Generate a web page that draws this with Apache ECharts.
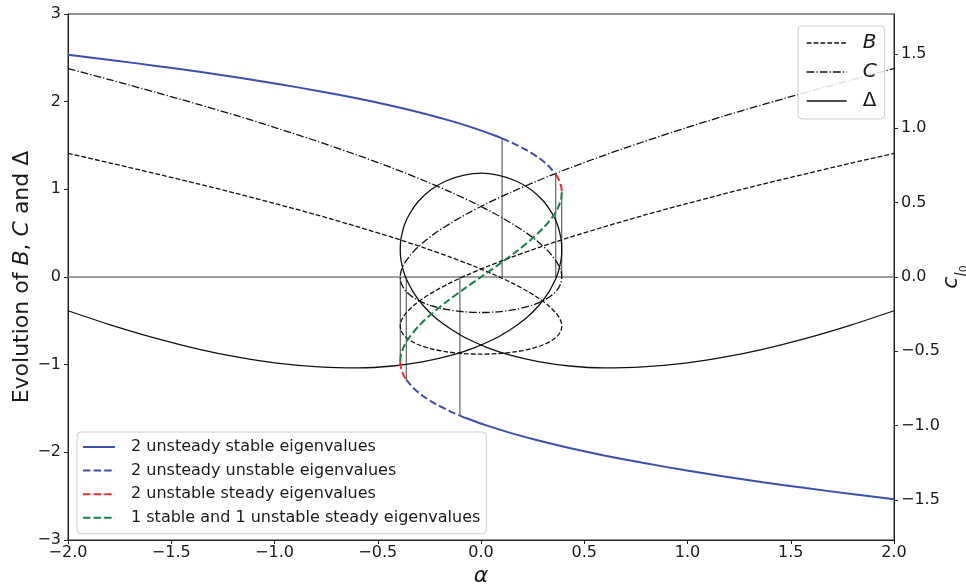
<!DOCTYPE html>
<html><head><meta charset="utf-8">
<script src="https://cdn.jsdelivr.net/npm/echarts@6/dist/echarts.min.js"></script>
<style>html,body{margin:0;padding:0;background:#fff}#c{width:966px;height:584px}</style>
</head><body><div id="c"></div>
<script>
// Path along the equilibrium curve: upper branch, middle branch, lower branch
const alpha = [
  -2.000, -1.795, -1.573, -1.364, -1.170, -0.990, -0.783, -0.596, -0.428, -0.278, -0.146, -0.030,
   0.070,  0.102,  0.154,  0.225,  0.281,  0.325,  0.362,  0.375,  0.386,  0.390,  0.391,
   0.390,  0.387,  0.371,  0.344,  0.302,  0.241,  0.170,  0.082,  0.000, -0.082, -0.170, -0.241,
  -0.302, -0.344, -0.371, -0.387, -0.390,
  -0.391, -0.390, -0.386, -0.375, -0.362, -0.325, -0.281, -0.225, -0.154, -0.102, -0.070,  0.030,
   0.146,  0.278,  0.428,  0.596,  0.783,  0.990,  1.170,  1.364,  1.573,  1.795,  2.000
];
const cl0 = [
   1.495, 1.46, 1.42, 1.38, 1.34, 1.30, 1.25, 1.20, 1.15, 1.10, 1.05, 1.00,
   0.95, 0.932, 0.90, 0.85, 0.80, 0.75, 0.69, 0.66, 0.62, 0.595, 0.57,
   0.545, 0.52, 0.46, 0.40, 0.33, 0.25, 0.17, 0.08, 0.0, -0.08, -0.17, -0.25,
  -0.33, -0.40, -0.46, -0.52, -0.545,
  -0.57, -0.595, -0.62, -0.66, -0.69, -0.75, -0.80, -0.85, -0.90, -0.932, -0.95, -1.00,
  -1.05, -1.10, -1.15, -1.20, -1.25, -1.30, -1.34, -1.38, -1.42, -1.46, -1.495
];
const valB = [
   1.410, 1.300, 1.177, 1.059, 0.944, 0.833, 0.700, 0.572, 0.451, 0.335, 0.224, 0.120,
   0.020, -0.014, -0.073, -0.162, -0.245, -0.323, -0.409, -0.449, -0.500, -0.531, -0.560,
  -0.587, -0.614, -0.672, -0.722, -0.773, -0.819, -0.852, -0.874, -0.880, -0.874, -0.852, -0.819,
  -0.773, -0.722, -0.672, -0.614, -0.587,
  -0.560, -0.531, -0.500, -0.449, -0.409, -0.323, -0.245, -0.162, -0.073, -0.014, 0.020, 0.120,
   0.224, 0.335, 0.451, 0.572, 0.700, 0.833, 0.944, 1.059, 1.177, 1.300, 1.410
];
const valC = [
   2.378, 2.249, 2.105, 1.966, 1.831, 1.699, 1.540, 1.388, 1.242, 1.101, 0.968, 0.840,
   0.719, 0.676, 0.603, 0.495, 0.392, 0.295, 0.188, 0.137, 0.074, 0.036, 0.000,
  -0.035, -0.068, -0.142, -0.206, -0.269, -0.327, -0.369, -0.397, -0.405, -0.397, -0.369, -0.327,
  -0.269, -0.206, -0.142, -0.068, -0.035,
   0.000, 0.036, 0.074, 0.137, 0.188, 0.295, 0.392, 0.495, 0.603, 0.676, 0.719, 0.840,
   0.968, 1.101, 1.242, 1.388, 1.540, 1.699, 1.831, 1.966, 2.105, 2.249, 2.378
];
const valD = [
  -0.385, -0.545, -0.700, -0.825, -0.918, -0.982, -1.025, -1.036, -1.015, -0.966, -0.895, -0.805,
  -0.700, -0.658, -0.582, -0.456, -0.322, -0.185, -0.021, 0.065, 0.176, 0.246, 0.314,
   0.380, 0.445, 0.594, 0.727, 0.867, 0.998, 1.095, 1.161, 1.185, 1.161, 1.095, 0.998,
   0.867, 0.727, 0.594, 0.445, 0.380,
   0.314, 0.246, 0.176, 0.065, -0.021, -0.185, -0.322, -0.456, -0.582, -0.658, -0.700, -0.805,
  -0.895, -0.966, -1.015, -1.036, -1.025, -0.982, -0.918, -0.825, -0.700, -0.545, -0.385
];
// stability segments along the path (start/end indices) and their class
const segStart = [0, 13, 18, 22, 40, 44, 49];
const segEnd   = [13, 18, 22, 40, 44, 49, 62];
const segClass = [0, 1, 2, 3, 2, 1, 0];
const classNames = [
  '2 unsteady stable eigenvalues',
  '2 unsteady unstable eigenvalues',
  '2 unstable steady eigenvalues',
  '1 stable and 1 unstable steady eigenvalues'
];
// bifurcation markers (indices into the path)
const markIdx = [13, 18, 22, 40, 44, 49];
const xTicks = [-2.0, -1.5, -1.0, -0.5, 0.0, 0.5, 1.0, 1.5, 2.0];
const leftTicks = [-3, -2, -1, 0, 1, 2, 3];
const rightTicks = [-1.5, -1.0, -0.5, 0.0, 0.5, 1.0, 1.5];
const rightRange = [-1.769, 1.769];

const FONT = 'DejaVu Sans';
const TXT = '#1a1a1a';
const classColor = ['#3a4fae', '#3a4fae', '#f22a2a', '#148246'];
const classType = ['solid', [7.4, 3.2], [7.4, 3.2], [7.4, 3.2]];
const minus = s => s.replace('-', '\u2212');

const series = [];
const curve = (vals) => alpha.map((a, i) => [a, vals[i]]);
series.push({name: 'B', type: 'line', yAxisIndex: 0, data: curve(valB), smooth: 0.3, symbol: 'none',
  lineStyle: {color: '#111', width: 1.3, type: [4.8, 2.1]}, silent: true, z: 2});
series.push({name: 'C', type: 'line', yAxisIndex: 0, data: curve(valC), smooth: 0.3, symbol: 'none',
  lineStyle: {color: '#111', width: 1.3, type: [7.7, 2.1, 1.3, 2.1]}, silent: true, z: 2});
series.push({name: '\u0394', type: 'line', yAxisIndex: 0, data: curve(valD), smooth: 0.3, symbol: 'none',
  lineStyle: {color: '#111', width: 1.3}, silent: true, z: 2});
// zero line
series.push({name: 'zero', type: 'line', yAxisIndex: 0,
  data: [[xTicks[0], 0], [xTicks[xTicks.length - 1], 0]], symbol: 'none',
  lineStyle: {color: '#808080', width: 1.5}, silent: true, z: 1});
// vertical marker lines
markIdx.forEach(i => {
  series.push({name: 'mark' + i, type: 'line', yAxisIndex: 1,
    data: [[alpha[i], cl0[i]], [alpha[i], 0]], symbol: 'none',
    lineStyle: {color: '#111', width: 0.8}, silent: true, z: 3});
});
// equilibrium curve segments
segStart.forEach((s, k) => {
  const cls = segClass[k];
  const pts = [];
  for (let i = s; i <= segEnd[k]; i++) pts.push([alpha[i], cl0[i]]);
  series.push({name: classNames[cls], type: 'line', yAxisIndex: 1, data: pts, smooth: 0.3,
    symbol: 'none', lineStyle: {color: classColor[cls], width: 2, type: classType[cls]},
    silent: true, z: 4});
});

const legendBox = {backgroundColor: 'rgba(255,255,255,0.85)', borderColor: '#cccccc', borderWidth: 1,
  borderRadius: 4, orient: 'vertical', align: 'left', itemStyle: {opacity: 0}};

const option = {
  animation: false,
  backgroundColor: '#ffffff',
  grid: {left: 68, right: 72, top: 14, bottom: 44, show: true, borderColor: '#222', borderWidth: 1,
    containLabel: false, outerBoundsMode: 'none'},
  xAxis: {type: 'value', min: xTicks[0], max: xTicks[xTicks.length - 1], interval: 0.5,
    axisLine: {show: true, onZero: false, lineStyle: {color: '#222', width: 1}},
    axisTick: {show: true, length: 4, lineStyle: {color: '#222'}},
    splitLine: {show: false},
    axisLabel: {fontFamily: FONT, fontSize: 16, color: TXT, margin: 5,
      formatter: v => minus(Number(v).toFixed(1))},
    name: '\u03b1', nameLocation: 'middle', nameGap: 25, nameMoveOverlap: false,
    nameTextStyle: {fontFamily: FONT, fontSize: 22, fontStyle: 'italic', color: TXT}},
  yAxis: [
    {type: 'value', min: leftTicks[0], max: leftTicks[leftTicks.length - 1], interval: 1, position: 'left',
      axisLine: {show: true, onZero: false, lineStyle: {color: '#222', width: 1}},
      axisTick: {show: true, length: 4, lineStyle: {color: '#222'}},
      splitLine: {show: false},
      axisLabel: {fontFamily: FONT, fontSize: 16, color: TXT, margin: 7, formatter: v => minus(String(v))},
      name: '{n|Evolution of }{i|B}{n|, }{i|C}{n| and \u0394}', nameLocation: 'middle', nameGap: 35,
      nameMoveOverlap: false,
      nameTextStyle: {fontFamily: FONT, fontSize: 22, color: TXT, rich: {
        n: {fontFamily: FONT, fontSize: 22, color: TXT},
        i: {fontFamily: FONT, fontSize: 22, color: TXT, fontStyle: 'italic'}}}},
    {type: 'value', min: rightRange[0], max: rightRange[1], position: 'right',
      axisLine: {show: true, onZero: false, lineStyle: {color: '#222', width: 1}},
      axisTick: {show: true, length: 4, lineStyle: {color: '#222'}, customValues: rightTicks},
      splitLine: {show: false},
      axisLabel: {fontFamily: FONT, fontSize: 16, color: TXT, margin: 7, customValues: rightTicks,
        formatter: v => minus(Number(v).toFixed(1))},
      name: '{c|c}{l|l}{z|0}', nameLocation: 'middle', nameGap: 46, nameRotate: 90,
      nameMoveOverlap: false,
      nameTextStyle: {fontFamily: FONT, fontSize: 22, color: TXT, rich: {
        c: {fontFamily: FONT, fontSize: 22, fontStyle: 'italic', color: TXT, lineHeight: 30, verticalAlign: 'top'},
        l: {fontFamily: FONT, fontSize: 15, fontStyle: 'italic', color: TXT, lineHeight: 19, verticalAlign: 'bottom'},
        z: {fontFamily: FONT, fontSize: 11, color: TXT, lineHeight: 11, verticalAlign: 'bottom'}}}}
  ],
  legend: [
    Object.assign({}, legendBox, {
      left: 798, top: 26, padding: [7, 8, 8, 8], itemWidth: 40, itemHeight: 14, itemGap: 9,
      textStyle: {fontFamily: FONT, fontSize: 20, color: TXT, padding: [0, 0, 0, 11]},
      data: [
        {name: 'B', textStyle: {fontStyle: 'italic'}, lineStyle: {color: '#111', width: 1.3, type: [4.8, 2.1]}},
        {name: 'C', textStyle: {fontStyle: 'italic'}, lineStyle: {color: '#111', width: 1.3, type: [7.7, 2.1, 1.3, 2.1]}},
        {name: '\u0394', lineStyle: {color: '#111', width: 1.3, type: 'solid'}}
      ]}),
    Object.assign({}, legendBox, {
      left: 77, top: 432, padding: [7, 6, 8, 5], itemWidth: 32, itemHeight: 14, itemGap: 7.6,
      textStyle: {fontFamily: FONT, fontSize: 16, color: TXT, padding: [0, 0, 0, 11]},
      data: classNames.map((n, k) => ({name: n,
        lineStyle: {color: classColor[k], width: 2, type: classType[k]}}))})
  ],
  series: series
};
const chart = echarts.init(document.getElementById('c'), null, {renderer: 'canvas'});
chart.setOption(option);
</script></body></html>
